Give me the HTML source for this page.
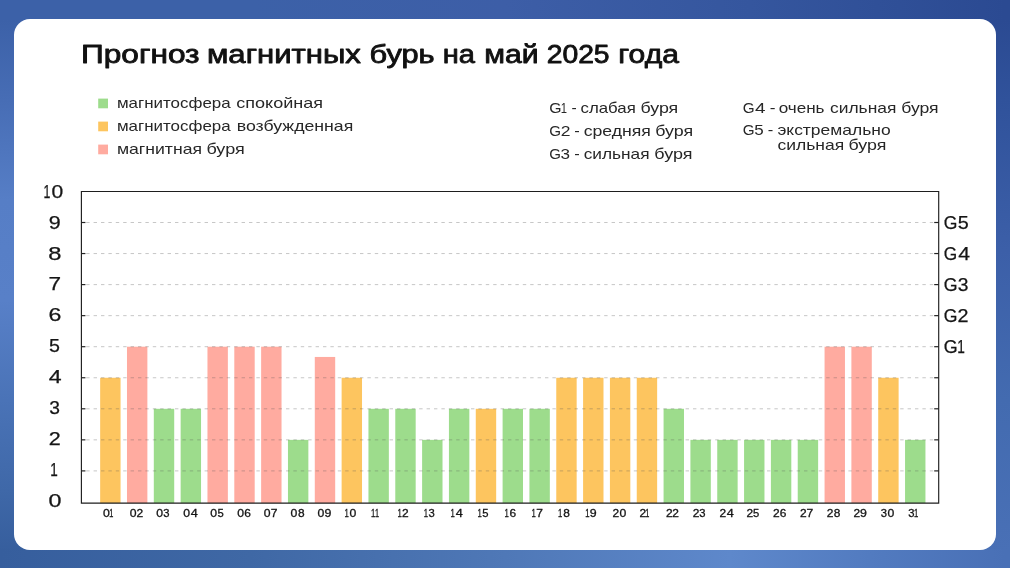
<!DOCTYPE html>
<html lang="ru">
<head>
<meta charset="utf-8">
<title>Прогноз магнитных бурь на май 2025 года</title>
<style>
html,body{margin:0;padding:0;}
body{width:1010px;height:568px;overflow:hidden;position:relative;
 font-family:"Liberation Sans","DejaVu Sans",sans-serif;
 background:
  linear-gradient(90deg,#3c61a8 0,#3c61a8 250px,#3d5ea7 505px,#35569e 750px,#2b4a92 1005px) 0 0/1010px 20px no-repeat,
  linear-gradient(90deg,#365e9d 0,#3f68a5 250px,#4f78b7 505px,#5e88cb 730px,#527bc0 870px,#4970b6 1005px) 0 549px/1010px 19px no-repeat,
  linear-gradient(180deg,#3c61a8 0,#3c61a8 20px,#476db5 100px,#567ec6 200px,#5880c8 300px,#4a73b7 400px,#3f68a8 490px,#365e9d 552px) 0 0/34px 568px no-repeat,
  linear-gradient(180deg,#2b4a92 0,#2b4a92 20px,#30529b 100px,#3c5fa8 250px,#436bb0 400px,#4970b6 552px) 976px 0/34px 568px no-repeat,
  #3f64ab;
}
.card{position:absolute;left:14.2px;top:19.15px;width:981.4px;height:530.45px;background:#fff;border-radius:16px;}
svg{position:absolute;left:0;top:0;}
text{font-family:"Liberation Sans","DejaVu Sans",sans-serif;}
.title{font-weight:normal;font-size:24.9px;fill:#111;stroke:#111;stroke-width:.8px;stroke-linejoin:round;}
.lg{font-size:15px;fill:#272727;}
.ax{font-size:17.7px;fill:#151515;stroke:#151515;stroke-width:.25px;}
.xl{font-size:11px;fill:#141414;stroke:#141414;stroke-width:.3px;}
</style>
</head>
<body>
<div class="card"></div>
<svg width="1010" height="568" viewBox="0 0 1010 568">
<!-- title -->
<text class="title" y="63.45"><tspan x="81.0" textLength="118.64" lengthAdjust="spacingAndGlyphs">Прогноз</tspan> <tspan x="206.95" textLength="153.97" lengthAdjust="spacingAndGlyphs">магнитных</tspan> <tspan x="369.55" textLength="65.08" lengthAdjust="spacingAndGlyphs">бурь</tspan> <tspan x="442.7" textLength="32.26" lengthAdjust="spacingAndGlyphs">на</tspan> <tspan x="484.3" textLength="54.36" lengthAdjust="spacingAndGlyphs">май</tspan> <tspan x="546.7" textLength="62.92" lengthAdjust="spacingAndGlyphs">2025</tspan> <tspan x="618.3" textLength="60.6" lengthAdjust="spacingAndGlyphs">года</tspan></text>
<!-- legend -->
<rect x="98.2" y="98.6" width="9.8" height="9.7" fill="#9ddc8c"/>
<text class="lg" y="107.5"><tspan x="116.95" textLength="113.72" lengthAdjust="spacingAndGlyphs">магнитосфера</tspan> <tspan x="236.25" textLength="86.76" lengthAdjust="spacingAndGlyphs">спокойная</tspan></text>
<rect x="98.2" y="121.6" width="9.8" height="9.7" fill="#fdc55f"/>
<text class="lg" y="130.5"><tspan x="116.95" textLength="113.72" lengthAdjust="spacingAndGlyphs">магнитосфера</tspan> <tspan x="236.75" textLength="116.51" lengthAdjust="spacingAndGlyphs">возбужденная</tspan></text>
<rect x="98.2" y="144.6" width="9.8" height="9.7" fill="#ffaba0"/>
<text class="lg" y="153.5"><tspan x="116.95" textLength="85.06" lengthAdjust="spacingAndGlyphs">магнитная</tspan> <tspan x="206.4" textLength="38.35" lengthAdjust="spacingAndGlyphs">буря</tspan></text>
<!-- storm scale legend -->
<text class="lg" y="112.6"><tspan x="549.15" textLength="12.31" lengthAdjust="spacingAndGlyphs">G</tspan><tspan x="560.64" textLength="6.25" lengthAdjust="spacingAndGlyphs">1</tspan> <tspan x="571.55" textLength="5.21" lengthAdjust="spacingAndGlyphs">-</tspan> <tspan x="580.55" textLength="55.28" lengthAdjust="spacingAndGlyphs">слабая</tspan> <tspan x="640.4" textLength="37.88" lengthAdjust="spacingAndGlyphs">буря</tspan></text>
<text class="lg" y="135.5"><tspan x="549.15" textLength="11.77" lengthAdjust="spacingAndGlyphs">G</tspan><tspan x="560.79" textLength="9.72" lengthAdjust="spacingAndGlyphs">2</tspan> <tspan x="574.35" textLength="5.52" lengthAdjust="spacingAndGlyphs">-</tspan> <tspan x="583.65" textLength="67.28" lengthAdjust="spacingAndGlyphs">средняя</tspan> <tspan x="655.2" textLength="37.93" lengthAdjust="spacingAndGlyphs">буря</tspan></text>
<text class="lg" y="158.5"><tspan x="549.15" textLength="11.67" lengthAdjust="spacingAndGlyphs">G</tspan><tspan x="560.62" textLength="9.5" lengthAdjust="spacingAndGlyphs">3</tspan> <tspan x="574.35" textLength="5.52" lengthAdjust="spacingAndGlyphs">-</tspan> <tspan x="583.65" textLength="65.9" lengthAdjust="spacingAndGlyphs">сильная</tspan> <tspan x="654.3" textLength="38.2" lengthAdjust="spacingAndGlyphs">буря</tspan></text>
<text class="lg" y="112.8"><tspan x="742.65" textLength="11.87" lengthAdjust="spacingAndGlyphs">G</tspan><tspan x="754.93" textLength="10.46" lengthAdjust="spacingAndGlyphs">4</tspan> <tspan x="769.75" textLength="5.75" lengthAdjust="spacingAndGlyphs">-</tspan> <tspan x="778.65" textLength="45.86" lengthAdjust="spacingAndGlyphs">очень</tspan> <tspan x="830.05" textLength="66.36" lengthAdjust="spacingAndGlyphs">сильная</tspan> <tspan x="901.2" textLength="37.47" lengthAdjust="spacingAndGlyphs">буря</tspan></text>
<text class="lg" y="135.4"><tspan x="742.65" textLength="11.83" lengthAdjust="spacingAndGlyphs">G</tspan><tspan x="754.37" textLength="9.42" lengthAdjust="spacingAndGlyphs">5</tspan> <tspan x="767.75" textLength="5.52" lengthAdjust="spacingAndGlyphs">-</tspan> <tspan x="777.4" textLength="113.21" lengthAdjust="spacingAndGlyphs">экстремально</tspan></text>
<text class="lg" y="150.4"><tspan x="777.45" textLength="66.77" lengthAdjust="spacingAndGlyphs">сильная</tspan> <tspan x="848.5" textLength="37.88" lengthAdjust="spacingAndGlyphs">буря</tspan></text>
<!-- bars -->
<g>
<rect x="100.15" y="377.75" width="20.4" height="125.35" fill="#fdc55f"/>
<rect x="126.98" y="346.70" width="20.4" height="156.40" fill="#ffaba0"/>
<rect x="153.81" y="408.80" width="20.4" height="94.30" fill="#9ddc8c"/>
<rect x="180.64" y="408.80" width="20.4" height="94.30" fill="#9ddc8c"/>
<rect x="207.47" y="346.70" width="20.4" height="156.40" fill="#ffaba0"/>
<rect x="234.30" y="346.70" width="20.4" height="156.40" fill="#ffaba0"/>
<rect x="261.13" y="346.70" width="20.4" height="156.40" fill="#ffaba0"/>
<rect x="287.96" y="439.85" width="20.4" height="63.25" fill="#9ddc8c"/>
<rect x="314.79" y="356.95" width="20.4" height="146.15" fill="#ffaba0"/>
<rect x="341.62" y="377.75" width="20.4" height="125.35" fill="#fdc55f"/>
<rect x="368.45" y="408.80" width="20.4" height="94.30" fill="#9ddc8c"/>
<rect x="395.28" y="408.80" width="20.4" height="94.30" fill="#9ddc8c"/>
<rect x="422.11" y="439.85" width="20.4" height="63.25" fill="#9ddc8c"/>
<rect x="448.94" y="408.80" width="20.4" height="94.30" fill="#9ddc8c"/>
<rect x="475.77" y="408.80" width="20.4" height="94.30" fill="#fdc55f"/>
<rect x="502.60" y="408.80" width="20.4" height="94.30" fill="#9ddc8c"/>
<rect x="529.43" y="408.80" width="20.4" height="94.30" fill="#9ddc8c"/>
<rect x="556.26" y="377.75" width="20.4" height="125.35" fill="#fdc55f"/>
<rect x="583.09" y="377.75" width="20.4" height="125.35" fill="#fdc55f"/>
<rect x="609.92" y="377.75" width="20.4" height="125.35" fill="#fdc55f"/>
<rect x="636.75" y="377.75" width="20.4" height="125.35" fill="#fdc55f"/>
<rect x="663.58" y="408.80" width="20.4" height="94.30" fill="#9ddc8c"/>
<rect x="690.41" y="439.85" width="20.4" height="63.25" fill="#9ddc8c"/>
<rect x="717.24" y="439.85" width="20.4" height="63.25" fill="#9ddc8c"/>
<rect x="744.07" y="439.85" width="20.4" height="63.25" fill="#9ddc8c"/>
<rect x="770.90" y="439.85" width="20.4" height="63.25" fill="#9ddc8c"/>
<rect x="797.73" y="439.85" width="20.4" height="63.25" fill="#9ddc8c"/>
<rect x="824.56" y="346.70" width="20.4" height="156.40" fill="#ffaba0"/>
<rect x="851.39" y="346.70" width="20.4" height="156.40" fill="#ffaba0"/>
<rect x="878.22" y="377.75" width="20.4" height="125.35" fill="#fdc55f"/>
<rect x="905.05" y="439.85" width="20.4" height="63.25" fill="#9ddc8c"/>
</g>
<g stroke="rgba(85,85,85,.33)" stroke-width="1" stroke-dasharray="3.4 4" fill="none">
<line x1="86.2" y1="470.90" x2="934.7" y2="470.90"/>
<line x1="86.2" y1="439.85" x2="934.7" y2="439.85"/>
<line x1="86.2" y1="408.80" x2="934.7" y2="408.80"/>
<line x1="86.2" y1="377.75" x2="934.7" y2="377.75"/>
<line x1="86.2" y1="346.70" x2="934.7" y2="346.70"/>
<line x1="86.2" y1="315.65" x2="934.7" y2="315.65"/>
<line x1="86.2" y1="284.60" x2="934.7" y2="284.60"/>
<line x1="86.2" y1="253.55" x2="934.7" y2="253.55"/>
<line x1="86.2" y1="222.50" x2="934.7" y2="222.50"/>
</g>
<g stroke="#222" stroke-width="1.2">
<line x1="81.4" y1="470.90" x2="85.4" y2="470.90"/>
<line x1="934.2" y1="470.90" x2="938.7" y2="470.90"/>
<line x1="81.4" y1="439.85" x2="85.4" y2="439.85"/>
<line x1="934.2" y1="439.85" x2="938.7" y2="439.85"/>
<line x1="81.4" y1="408.80" x2="85.4" y2="408.80"/>
<line x1="934.2" y1="408.80" x2="938.7" y2="408.80"/>
<line x1="81.4" y1="377.75" x2="85.4" y2="377.75"/>
<line x1="934.2" y1="377.75" x2="938.7" y2="377.75"/>
<line x1="81.4" y1="346.70" x2="85.4" y2="346.70"/>
<line x1="934.2" y1="346.70" x2="938.7" y2="346.70"/>
<line x1="81.4" y1="315.65" x2="85.4" y2="315.65"/>
<line x1="934.2" y1="315.65" x2="938.7" y2="315.65"/>
<line x1="81.4" y1="284.60" x2="85.4" y2="284.60"/>
<line x1="934.2" y1="284.60" x2="938.7" y2="284.60"/>
<line x1="81.4" y1="253.55" x2="85.4" y2="253.55"/>
<line x1="934.2" y1="253.55" x2="938.7" y2="253.55"/>
<line x1="81.4" y1="222.50" x2="85.4" y2="222.50"/>
<line x1="934.2" y1="222.50" x2="938.7" y2="222.50"/>
</g>
<path d="M81.4 503.1 V191.45 H938.7 V503.1 Z" fill="none" stroke="#1e1e1e" stroke-width="1.15"/>
<!-- axis labels -->
<text class="ax" y="197.7"><tspan x="43.5" textLength="6.87" lengthAdjust="spacingAndGlyphs">1</tspan><tspan x="51.62" textLength="11.72" lengthAdjust="spacingAndGlyphs">0</tspan></text>
<text class="ax" y="228.6"><tspan x="48.65" textLength="11.94" lengthAdjust="spacingAndGlyphs">9</tspan></text>
<text class="ax" y="259.5"><tspan x="48.15" textLength="13.2" lengthAdjust="spacingAndGlyphs">8</tspan></text>
<text class="ax" y="290.4"><tspan x="48.5" textLength="12.55" lengthAdjust="spacingAndGlyphs">7</tspan></text>
<text class="ax" y="321.3"><tspan x="48.5" textLength="12.88" lengthAdjust="spacingAndGlyphs">6</tspan></text>
<text class="ax" y="352.2"><tspan x="49.05" textLength="10.92" lengthAdjust="spacingAndGlyphs">5</tspan></text>
<text class="ax" y="383.1"><tspan x="48.65" textLength="12.87" lengthAdjust="spacingAndGlyphs">4</tspan></text>
<text class="ax" y="414.0"><tspan x="49.2" textLength="10.71" lengthAdjust="spacingAndGlyphs">3</tspan></text>
<text class="ax" y="444.9"><tspan x="48.7" textLength="12.0" lengthAdjust="spacingAndGlyphs">2</tspan></text>
<text class="ax" y="475.8"><tspan x="50.2" textLength="7.51" lengthAdjust="spacingAndGlyphs">1</tspan></text>
<text class="ax" y="506.7"><tspan x="48.55" textLength="12.97" lengthAdjust="spacingAndGlyphs">0</tspan></text>
<text class="ax" y="228.8"><tspan x="943.85" textLength="13.65" lengthAdjust="spacingAndGlyphs">G</tspan><tspan x="957.78" textLength="11.0" lengthAdjust="spacingAndGlyphs">5</tspan></text>
<text class="ax" y="259.85"><tspan x="943.85" textLength="13.41" lengthAdjust="spacingAndGlyphs">G</tspan><tspan x="958.15" textLength="11.79" lengthAdjust="spacingAndGlyphs">4</tspan></text>
<text class="ax" y="290.9"><tspan x="943.85" textLength="13.82" lengthAdjust="spacingAndGlyphs">G</tspan><tspan x="957.88" textLength="10.71" lengthAdjust="spacingAndGlyphs">3</tspan></text>
<text class="ax" y="321.95"><tspan x="943.85" textLength="13.7" lengthAdjust="spacingAndGlyphs">G</tspan><tspan x="957.63" textLength="10.99" lengthAdjust="spacingAndGlyphs">2</tspan></text>
<text class="ax" y="353.0"><tspan x="943.85" textLength="13.91" lengthAdjust="spacingAndGlyphs">G</tspan><tspan x="957.13" textLength="7.6" lengthAdjust="spacingAndGlyphs">1</tspan></text>
<text class="xl" y="517.3"><tspan x="103.05" textLength="6.8" lengthAdjust="spacingAndGlyphs">0</tspan><tspan x="109.34" textLength="4.08" lengthAdjust="spacingAndGlyphs">1</tspan></text>
<text class="xl" y="517.3"><tspan x="129.65" textLength="6.8" lengthAdjust="spacingAndGlyphs">0</tspan><tspan x="136.44" textLength="6.67" lengthAdjust="spacingAndGlyphs">2</tspan></text>
<text class="xl" y="517.3"><tspan x="156.25" textLength="6.8" lengthAdjust="spacingAndGlyphs">0</tspan><tspan x="163.19" textLength="6.25" lengthAdjust="spacingAndGlyphs">3</tspan></text>
<text class="xl" y="517.3"><tspan x="183.25" textLength="6.8" lengthAdjust="spacingAndGlyphs">0</tspan><tspan x="190.79" textLength="7.04" lengthAdjust="spacingAndGlyphs">4</tspan></text>
<text class="xl" y="517.3"><tspan x="210.35" textLength="6.8" lengthAdjust="spacingAndGlyphs">0</tspan><tspan x="217.43" textLength="6.25" lengthAdjust="spacingAndGlyphs">5</tspan></text>
<text class="xl" y="517.3"><tspan x="237.15" textLength="6.8" lengthAdjust="spacingAndGlyphs">0</tspan><tspan x="244.31" textLength="6.64" lengthAdjust="spacingAndGlyphs">6</tspan></text>
<text class="xl" y="517.3"><tspan x="263.75" textLength="6.8" lengthAdjust="spacingAndGlyphs">0</tspan><tspan x="270.69" textLength="6.71" lengthAdjust="spacingAndGlyphs">7</tspan></text>
<text class="xl" y="517.3"><tspan x="290.55" textLength="6.8" lengthAdjust="spacingAndGlyphs">0</tspan><tspan x="297.92" textLength="6.63" lengthAdjust="spacingAndGlyphs">8</tspan></text>
<text class="xl" y="517.3"><tspan x="317.55" textLength="6.8" lengthAdjust="spacingAndGlyphs">0</tspan><tspan x="324.48" textLength="6.89" lengthAdjust="spacingAndGlyphs">9</tspan></text>
<text class="xl" y="517.3"><tspan x="344.41" textLength="4.29" lengthAdjust="spacingAndGlyphs">1</tspan><tspan x="349.57" textLength="6.8" lengthAdjust="spacingAndGlyphs">0</tspan></text>
<text class="xl" y="517.3"><tspan x="371.01" textLength="4.29" lengthAdjust="spacingAndGlyphs">1</tspan><tspan x="375.05" textLength="4.08" lengthAdjust="spacingAndGlyphs">1</tspan></text>
<text class="xl" y="517.3"><tspan x="397.41" textLength="4.29" lengthAdjust="spacingAndGlyphs">1</tspan><tspan x="401.95" textLength="6.64" lengthAdjust="spacingAndGlyphs">2</tspan></text>
<text class="xl" y="517.3"><tspan x="423.81" textLength="4.29" lengthAdjust="spacingAndGlyphs">1</tspan><tspan x="428.5" textLength="6.25" lengthAdjust="spacingAndGlyphs">3</tspan></text>
<text class="xl" y="517.3"><tspan x="450.41" textLength="4.29" lengthAdjust="spacingAndGlyphs">1</tspan><tspan x="455.7" textLength="7.04" lengthAdjust="spacingAndGlyphs">4</tspan></text>
<text class="xl" y="517.3"><tspan x="477.41" textLength="4.29" lengthAdjust="spacingAndGlyphs">1</tspan><tspan x="482.24" textLength="6.25" lengthAdjust="spacingAndGlyphs">5</tspan></text>
<text class="xl" y="517.3"><tspan x="504.51" textLength="4.29" lengthAdjust="spacingAndGlyphs">1</tspan><tspan x="509.42" textLength="6.64" lengthAdjust="spacingAndGlyphs">6</tspan></text>
<text class="xl" y="517.3"><tspan x="531.51" textLength="4.29" lengthAdjust="spacingAndGlyphs">1</tspan><tspan x="536.2" textLength="6.68" lengthAdjust="spacingAndGlyphs">7</tspan></text>
<text class="xl" y="517.3"><tspan x="558.11" textLength="4.29" lengthAdjust="spacingAndGlyphs">1</tspan><tspan x="563.23" textLength="6.63" lengthAdjust="spacingAndGlyphs">8</tspan></text>
<text class="xl" y="517.3"><tspan x="585.21" textLength="4.29" lengthAdjust="spacingAndGlyphs">1</tspan><tspan x="589.89" textLength="6.89" lengthAdjust="spacingAndGlyphs">9</tspan></text>
<text class="xl" y="517.3"><tspan x="612.6" textLength="6.64" lengthAdjust="spacingAndGlyphs">2</tspan><tspan x="619.58" textLength="6.8" lengthAdjust="spacingAndGlyphs">0</tspan></text>
<text class="xl" y="517.3"><tspan x="639.4" textLength="6.64" lengthAdjust="spacingAndGlyphs">2</tspan><tspan x="645.26" textLength="4.08" lengthAdjust="spacingAndGlyphs">1</tspan></text>
<text class="xl" y="517.3"><tspan x="666.0" textLength="6.64" lengthAdjust="spacingAndGlyphs">2</tspan><tspan x="672.36" textLength="6.64" lengthAdjust="spacingAndGlyphs">2</tspan></text>
<text class="xl" y="517.3"><tspan x="692.7" textLength="6.64" lengthAdjust="spacingAndGlyphs">2</tspan><tspan x="699.21" textLength="6.25" lengthAdjust="spacingAndGlyphs">3</tspan></text>
<text class="xl" y="517.3"><tspan x="719.6" textLength="6.64" lengthAdjust="spacingAndGlyphs">2</tspan><tspan x="726.71" textLength="7.04" lengthAdjust="spacingAndGlyphs">4</tspan></text>
<text class="xl" y="517.3"><tspan x="746.4" textLength="6.64" lengthAdjust="spacingAndGlyphs">2</tspan><tspan x="753.05" textLength="6.25" lengthAdjust="spacingAndGlyphs">5</tspan></text>
<text class="xl" y="517.3"><tspan x="773.1" textLength="6.64" lengthAdjust="spacingAndGlyphs">2</tspan><tspan x="779.83" textLength="6.64" lengthAdjust="spacingAndGlyphs">6</tspan></text>
<text class="xl" y="517.3"><tspan x="800.1" textLength="6.64" lengthAdjust="spacingAndGlyphs">2</tspan><tspan x="806.61" textLength="6.71" lengthAdjust="spacingAndGlyphs">7</tspan></text>
<text class="xl" y="517.3"><tspan x="826.8" textLength="6.64" lengthAdjust="spacingAndGlyphs">2</tspan><tspan x="833.74" textLength="6.63" lengthAdjust="spacingAndGlyphs">8</tspan></text>
<text class="xl" y="517.3"><tspan x="853.6" textLength="6.64" lengthAdjust="spacingAndGlyphs">2</tspan><tspan x="860.1" textLength="6.89" lengthAdjust="spacingAndGlyphs">9</tspan></text>
<text class="xl" y="517.3"><tspan x="880.75" textLength="6.25" lengthAdjust="spacingAndGlyphs">3</tspan><tspan x="887.54" textLength="6.8" lengthAdjust="spacingAndGlyphs">0</tspan></text>
<text class="xl" y="517.3"><tspan x="908.25" textLength="6.25" lengthAdjust="spacingAndGlyphs">3</tspan><tspan x="913.92" textLength="4.29" lengthAdjust="spacingAndGlyphs">1</tspan></text>
</svg>
</body>
</html>
